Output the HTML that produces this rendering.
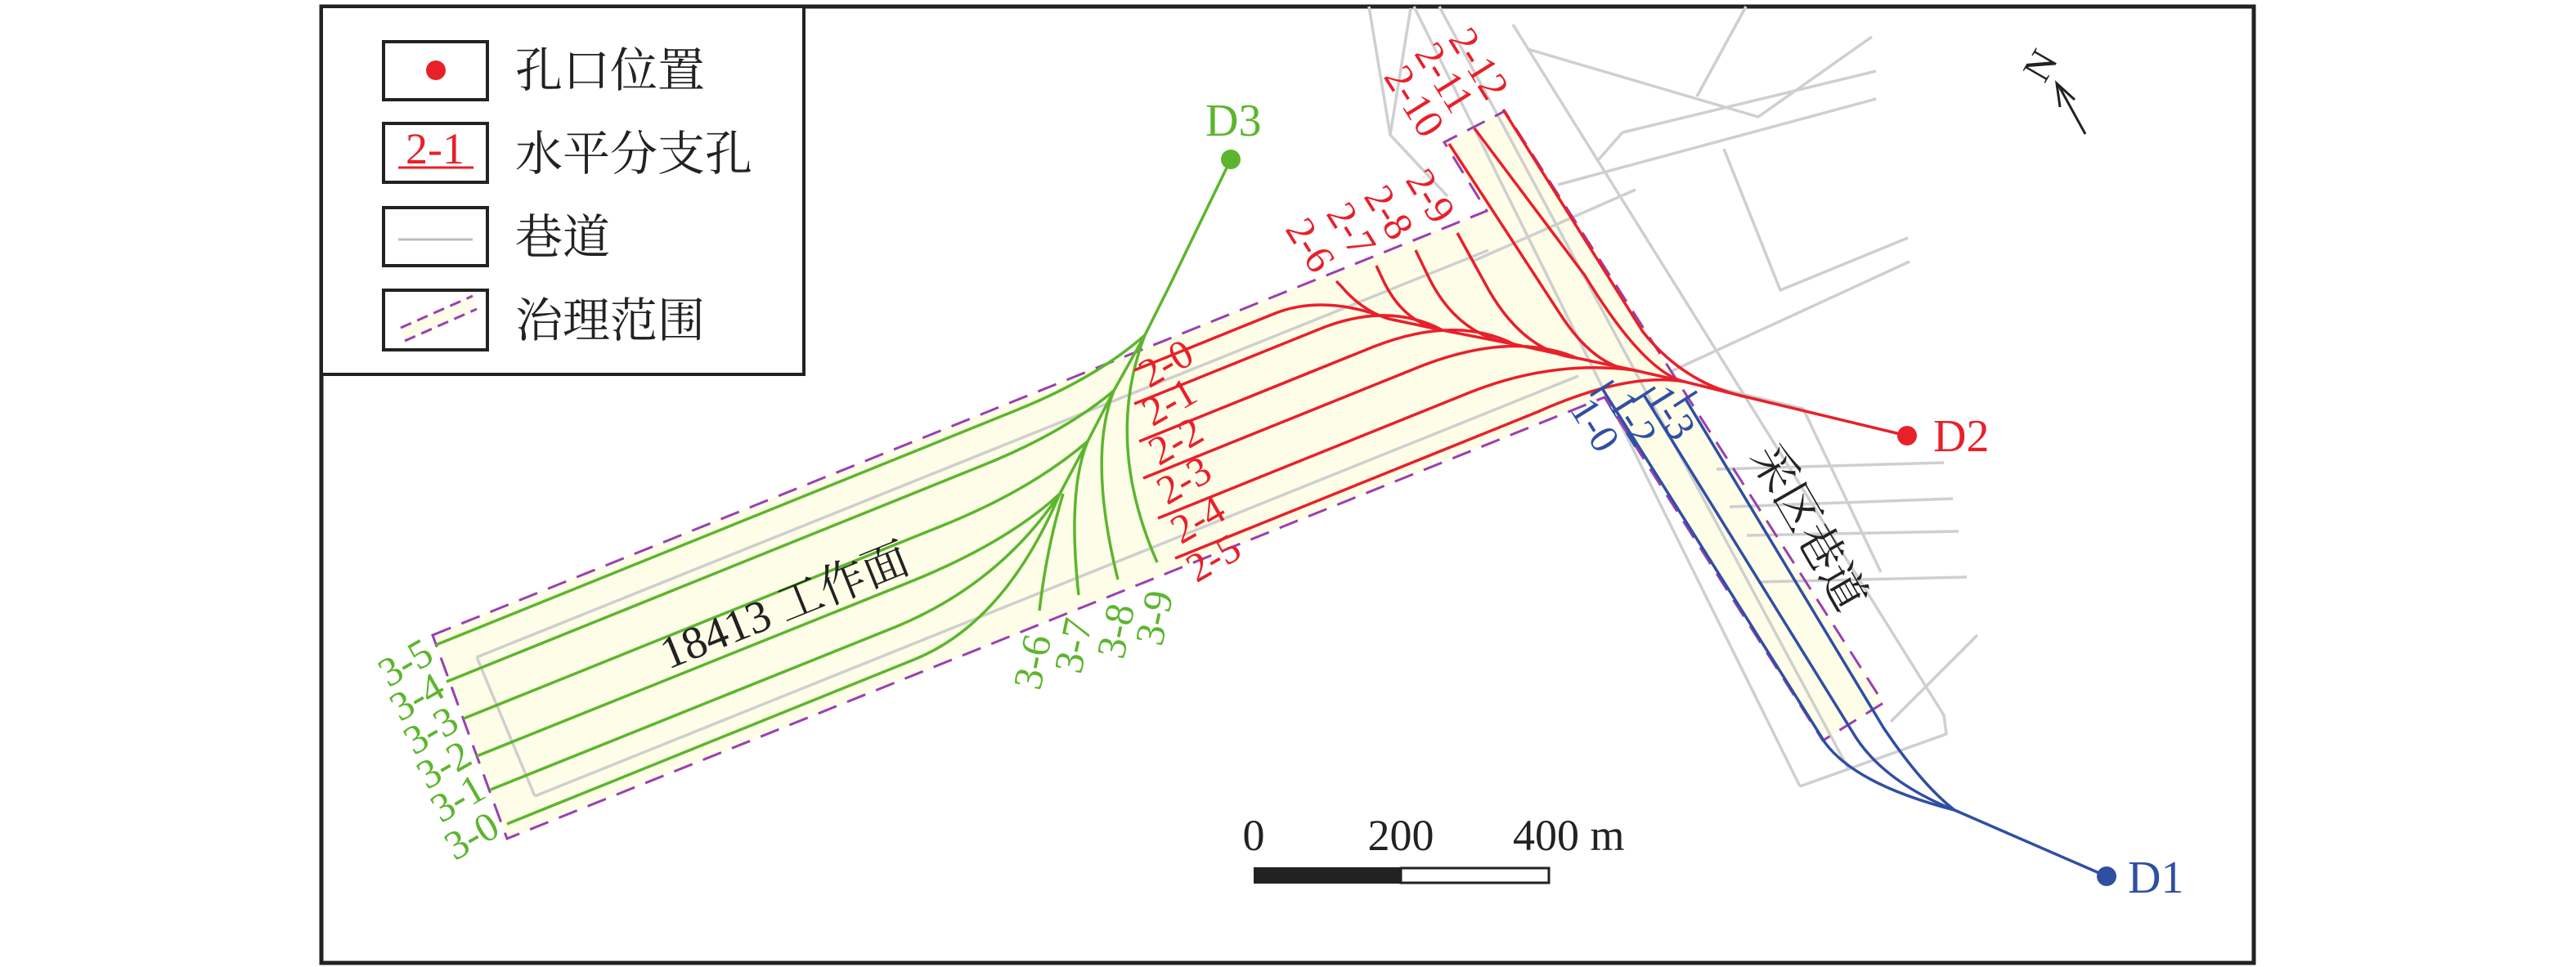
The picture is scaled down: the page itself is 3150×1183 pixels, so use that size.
<!DOCTYPE html>
<html><head><meta charset="utf-8"><style>
html,body{margin:0;padding:0;background:#fff;}
svg{display:block;}
text{font-family:"Liberation Serif","Noto Serif CJK SC",serif;}
</style></head><body>
<svg id="map" width="3150" height="1183" viewBox="0 0 3150 1183" xmlns="http://www.w3.org/2000/svg">
<rect x="393" y="8" width="2363" height="1170" fill="#fff" stroke="#222" stroke-width="5"/>
<g id="areas"></g><g id="roads"></g><g id="bounds"></g><g id="holes"></g><g id="labels"></g>
<g>
<rect x="393" y="8" width="590" height="450" fill="#fff" stroke="#222" stroke-width="4"/>
<rect x="469" y="51" width="127" height="71" fill="#fff" stroke="#222" stroke-width="4"/>
<circle cx="533" cy="86" r="12" fill="#e8202a"/>
<text x="630" y="106" font-size="58" fill="#222">孔口位置</text>
<rect x="469" y="151" width="127" height="72" fill="#fff" stroke="#222" stroke-width="4"/>
<text x="532" y="200" font-size="54" fill="#e8202a" text-anchor="middle">2-1</text>
<line x1="487" y1="205" x2="579" y2="205" stroke="#e8202a" stroke-width="3"/>
<text x="630" y="208" font-size="58" fill="#222">水平分支孔</text>
<rect x="469" y="254" width="127" height="71" fill="#fff" stroke="#222" stroke-width="4"/>
<line x1="487" y1="293" x2="578" y2="293" stroke="#bdbdbd" stroke-width="3"/>
<text x="630" y="310" font-size="58" fill="#222">巷道</text>
<rect x="469" y="355" width="127" height="73" fill="#fff" stroke="#222" stroke-width="4"/>
<polygon points="490,401 578,362 583,378 495,417" fill="#fdfde8"/>
<line x1="490" y1="401" x2="578" y2="362" stroke="#9b3fb0" stroke-width="3" stroke-dasharray="14,8"/>
<line x1="495" y1="417" x2="583" y2="378" stroke="#9b3fb0" stroke-width="3" stroke-dasharray="14,8"/>
<text x="630" y="412" font-size="58" fill="#222">治理范围</text>
</g>
<g>
<line x1="2550" y1="164" x2="2517" y2="104" stroke="#222" stroke-width="3"/>
<polyline points="2519,131 2515,102 2537,122" fill="none" stroke="#222" stroke-width="3"/>
<text x="2495" y="96" font-size="48" fill="#222" text-anchor="middle" transform="rotate(-60 2495 80)">N</text>
</g>
<g>
<rect x="1533" y="1061" width="180" height="20" fill="#222"/>
<rect x="1713" y="1062" width="181" height="18" fill="#fff" stroke="#222" stroke-width="3"/>
<text x="1533" y="1040" font-size="54" fill="#222" text-anchor="middle">0</text>
<text x="1713" y="1040" font-size="54" fill="#222" text-anchor="middle">200</text>
<text x="1850" y="1040" font-size="54" fill="#222">400 m</text>
</g>
</svg>
<script>
// ---- data (map coordinates) ----
const bandArea = [[529,777],[1818,258],[1766,174],[1840,136],[2303,860],[2229,906],[1962,486],[620,1026]];
const roadLines = [
 [[583,804],[1820,306]],[[583,804],[654,974]],[[654,974],[1930,460]],
 [[1674,8],[1700,165],[1770,240]],[[1700,165],[1725,10]],
 [[1729,8],[2201,962]],[[1760,8],[2260,940]],[[1850,30],[2377,875],[2380,898],[2201,962]],
 [[1868,60],[2150,143],[2289,45]],[[2075,118],[2135,8]],[[1984,162],[2294,87]],[[1955,195],[1984,162]],
 [[1905,226],[2294,121]],[[2108,182],[2177,355],[2333,291]],[[2042,455],[2335,320]],
 [[1800,320],[2000,232]],[[2099,574],[2377,566]],[[2115,620],[2388,610]],[[2136,655],[2395,650]],
 [[2150,712],[2405,706]],[[2312,883],[2418,777]],[[2080,470],[2205,500],[2300,700]]
];
const greenTrunk = [[1505,195],[1430,350],[1400,410],[1362,478],[1330,540],[1296,604]];
const greenNames = ["3-5","3-4","3-3","3-2","3-1","3-0","3-6","3-7","3-8","3-9"];
const greenPaths = [
 [[533,789],[1240,503],[1340,463],[1400,410]],
 [[546,834],[1200,570],[1300,530],[1362,478]],
 [[567,879],[1150,644],[1260,600],[1330,540]],
 [[583,925],[1110,713],[1230,665],[1296,604]],
 [[600,966],[1090,769],[1220,717],[1296,604]],
 [[620,1008],[1120,806],[1230,760],[1296,604]],
 [[1271,747],[1271,747],[1280,670],[1300,604]],
 [[1319,728],[1319,728],[1305,600],[1330,540]],
 [[1367,709],[1367,709],[1330,560],[1362,478]],
 [[1415,688],[1415,688],[1350,540],[1400,410]]
];
const greenLabelPos = [[496,811,-30],[510,853,-30],[527,894,-30],[543,936,-30],[560,977,-30],[577,1023,-30],[1263,810,-78],[1313,790,-78],[1365,772,-78],[1412,756,-78]];
const redTrunk = [[2332,533],[2137,486],[2060,467],[1999,453],[1928,438],[1851,421],[1764,404],[1698,390]];
const redNames = ["2-0","2-1","2-2","2-3","2-4","2-5","2-6","2-7","2-8","2-9","2-10","2-11","2-12"];
const redPaths = [
 [[1387,453],[1560,383],[1620,360],[1698,390]],
 [[1387,494],[1620,400],[1700,370],[1764,404]],
 [[1393,540],[1680,424],[1780,385],[1851,421]],
 [[1398,585],[1740,447],[1850,405],[1928,438]],
 [[1416,634],[1800,479],[1900,440],[1999,453]],
 [[1437,683],[1880,504],[1990,455],[2060,467]],
 [[1634,344],[1640,350],[1665,380],[1698,390]],
 [[1683,325],[1690,340],[1715,395],[1764,404]],
 [[1731,306],[1745,335],[1780,410],[1851,421]],
 [[1782,285],[1815,345],[1860,430],[1928,438]],
 [[1772,176],[1907,383],[1950,450],[1999,453]],
 [[1803,157],[1938,337],[2010,455],[2060,467]],
 [[1838,134],[2009,406],[2060,470],[2137,486]]
];
const redLabelPos = [[1426,445,-30],[1430,492,-30],[1438,540,-30],[1448,588,-30],[1465,636,-30],[1484,683,-30],[1602,300,58],[1652,281,58],[1698,260,58],[1749,240,58],[1729,124,58],[1766,95,58],[1808,78,58]];
const blueTrunk = [[2390,991],[2576,1072]];
const blueNames = ["1-0","1-2","1-3"];
const bluePaths = [
 [[1959,475],[2232,909],[2270,960],[2390,991]],
 [[2010,483],[2265,895],[2300,955],[2390,991]],
 [[2061,488],[2303,890],[2350,960],[2390,991]]
];
const blueLabelPos = [[1950,520,58],[1996,513,58],[2043,505,58]];
const collars = [["D3",1505,195,"#5db52e",1474,166],["D2",2332,533,"#e8202a",2364,552],["D1",2576,1072,"#2f4fa3",2602,1092]];

// ---- drawing ----
const NS="http://www.w3.org/2000/svg";
function mk(tag,parent,attrs){const e=document.createElementNS(NS,tag);for(const k in attrs)e.setAttribute(k,attrs[k]);document.getElementById(parent).appendChild(e);return e;}
function pts(a){return a.map(p=>p.join(',')).join(' ');}
let e;
e=mk('polygon','areas',{points:pts(bandArea),fill:'#fdfde8'});


e=mk('polygon','bounds',{points:pts(bandArea),fill:'none',stroke:'#9b3fb0','stroke-width':3,'stroke-dasharray':'24,14'});


roadLines.forEach((r,i)=>{
 e=mk('polyline','roads',{points:pts(r),fill:'none',stroke:'#cfcfcf','stroke-width':3.5,'stroke-linejoin':'round'});
 
 
});
function branch(p){return `M${p[0]} L${p[1]} Q${p[2]} ${p[3]}`;}
function drawSet(paths,names,trunk,color,lblPos,prefix){
 e=mk('polyline','holes',{points:pts(trunk),fill:'none',stroke:color,'stroke-width':3.5});
 
 
 paths.forEach((p,i)=>{
  e=mk('path','holes',{d:branch(p),fill:'none',stroke:color,'stroke-width':3.5});
  
  
  const l=lblPos[i];
  e=mk('text','labels',{x:l[0],y:l[1]+16,'font-size':50,fill:color,'text-anchor':'middle',transform:`rotate(${l[2]} ${l[0]} ${l[1]})`});
  e.textContent=names[i];
  
  
 });
}
drawSet(greenPaths,greenNames,greenTrunk,'#5db52e',greenLabelPos,'d3');
drawSet(redPaths,redNames,redTrunk,'#e8202a',redLabelPos,'d2');
drawSet(bluePaths,blueNames,blueTrunk,'#2f4fa3',blueLabelPos,'d1');
bluePaths.forEach((p,i)=>{
 e=mk('line','holes',{x1:p[0][0]-14,y1:p[0][1]+9,x2:p[0][0]+14,y2:p[0][1]-9,stroke:'#2f4fa3','stroke-width':3.5});
 
 
});
collars.forEach(c=>{
 e=mk('circle','labels',{cx:c[1],cy:c[2],r:12,fill:c[3]});
 
 
 e=mk('text','labels',{x:c[4],y:c[5],'font-size':56,fill:c[3]});
 e.textContent=c[0];
 
 
});
e=mk('text','labels',{x:960,y:760,'font-size':56,fill:'#222','text-anchor':'middle',transform:'rotate(-22 960 743)'});
e.textContent='18413 工作面';


e=mk('text','labels',{x:2212,y:664,'font-size':56,fill:'#222','text-anchor':'middle',transform:'rotate(60 2212 645)'});
e.textContent='采区巷道';


</script>
</body></html>
